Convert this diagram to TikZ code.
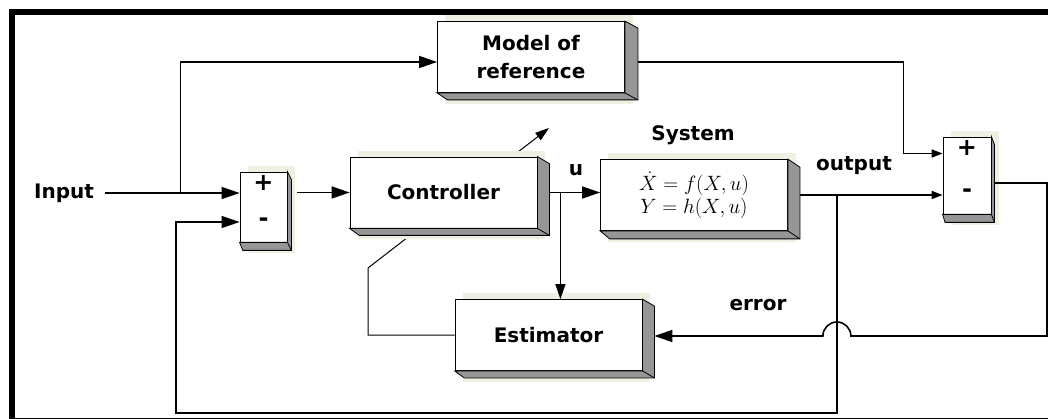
\documentclass[tikz,border=0pt]{standalone}
\usepackage{amsmath}
\usepackage{fontspec}
\usepackage{tikz}
\usetikzlibrary{arrows.meta,positioning,calc}
\newfontfamily\diagfont{DejaVu Sans}
\definecolor{sidegray}{RGB}{150,150,150}
\definecolor{halobeige}{RGB}{238,240,226}
\pgfdeclarelayer{wires}
\pgfdeclarelayer{halo}
\pgfsetlayers{wires,halo,main}

% raised look of a block: pale halo, grey right side and bottom
\newcommand{\boxfaces}[3]{%
  \begin{pgfonlayer}{halo}
    \fill[halobeige] ($(#1.north west)+(8,-6)$) rectangle ($(#1.south east)+(8,11)$);
  \end{pgfonlayer}
  \filldraw[fill=sidegray, draw=black, line width=0.8pt] (#1.north east) -- ++(#2,#3)
    -- ($(#1.south east)+(#2,#3)$) -- ($(#1.south west)+(0.8*#2,#3)$) -- (#1.south west)
    -- (#1.south east) -- cycle;
  \draw[line width=0.8pt] (#1.south east) -- ++(#2,#3);
}

\begin{document}
\begin{tikzpicture}[
    x=1pt, y=-1pt,
    every node/.style={align=center},
    block/.style={rectangle, draw=black, fill=white, line width=0.8pt, minimum width=187pt, minimum height=71pt, inner sep=0pt, font=\diagfont\bfseries\fontsize{20}{28}\selectfont},
    sumblock/.style={block, minimum width=47pt, minimum height=70pt},
    lbl/.style={inner sep=0pt, font=\diagfont\bfseries\fontsize{20}{24}\selectfont},
    signlbl/.style={inner sep=0pt, font=\diagfont\bfseries\fontsize{24}{24}\selectfont},
    wire/.style={line width=1.6pt},
    arrow/.style={wire, -{Triangle[length=18pt,width=12pt]}},
    smallarrow/.style={wire, -{Triangle[length=11pt,width=8pt]}},
    thinarrow/.style={line width=1pt, -{Triangle[length=14pt,width=9pt]}}
]
\useasboundingbox (0,0) rectangle (1048,419);

% Frame
\draw[line width=6pt] (1048,12) -- (12,12) -- (12,419);
\draw[line width=1pt] (9,418) -- (1048,418);

% Blocks
\node[block] (model) at (531,57) {Model of\\reference};
\boxfaces{model}{13}{7}
\node[sumblock] (sumA) at (263.5,207) {};
\boxfaces{sumA}{4}{8}
\node[block] (ctrl) at (443.5,192.5) {Controller};
\boxfaces{ctrl}{12}{7}
\node[block, font=\fontsize{20.74}{23}\selectfont] (sys) at (694,195) {$\dot{X} = f(X,u)$\\$Y = h(X,u)$};
\boxfaces{sys}{12}{8}
\node[sumblock, minimum width=48pt, minimum height=77pt] (sumB) at (967,175.5) {};
\boxfaces{sumB}{3}{8}
\node[block] (est) at (548.5,335) {Estimator};
\boxfaces{est}{12}{7}

% Signs and labels
\node[signlbl] (sumAplus) at (263.5,183) {+};
\node[signlbl] (sumAminus) at (263.5,222) {-};
\node[signlbl] (sumBplus) at (967,148) {+};
\node[signlbl] (sumBminus) at (967,193) {-};
\node[lbl] (inp) at (64,193) {Input};
\node[lbl] (sysName) at (693,135) {System};
\node[lbl] (uLbl) at (576,170) {u};
\node[lbl] (outLbl) at (854,166) {output};
\node[lbl] (errLbl) at (758,305) {error};

% Points on the wires
\coordinate (inBr) at (180,193);
\coordinate (modelIn) at ($(model.west)+(0,5)$);
\coordinate (modelOut) at ($(model.east)+(13,5)$);
\coordinate (uOut) at ($(ctrl.east)+(12,0)$);
\coordinate (uBr) at ($(uOut)+(11,0)$);
\coordinate (yOut) at ($(sys.east)+(12,0)$);
\coordinate (outBr) at ($(yOut)+(37,0)$);
\coordinate (fbCorner) at (176,413);
\coordinate (plusIn) at ($(sumB.west)+(0,-22)$);
\coordinate (errOut) at ($(sumB.east)+(3,7.5)$);
\coordinate (errCorner) at (1047,336);
\coordinate (errIn) at ($(est.east)+(12,1)$);
\coordinate (adjA) at (368,268);
\coordinate (adjTip) at (549,128);

% Connections
\draw[arrow] ($(inp.east)+(11,0)$) -- (sumA.west |- inp.east);
\draw[line width=1pt] (inBr) -- (inBr |- modelIn);
\draw[arrow] (inBr |- modelIn) -- (modelIn);
\draw[arrow] ($(sumA.east |- ctrl.west)+(10,0)$) -- (ctrl.west);
\draw[arrow] (uOut) -- (sys.west |- uOut);
\draw[line width=1.2pt, -{Triangle[length=15pt,width=10pt]}] (uBr) -- (uBr |- est.north);
\draw[smallarrow] (yOut) -- (sumB.west |- yOut);
\draw[smallarrow] (modelOut) -| ($(plusIn)+(-39,0)$) -- (plusIn);

% Feedback of the output
\draw[arrow] (outBr) |- (fbCorner) |- ($(sumA.west)+(0,15)$);

% Error to the estimator, hopping over the feedback
\draw[arrow] (errOut) -| (errCorner) -- ($(outBr |- errCorner)+(14,0)$)
    arc[start angle=0, end angle=180, radius=14pt] -- (errIn);

% Adaptation of the controller
\begin{pgfonlayer}{wires}
\draw[thinarrow] (est.west) -| (adjA) -- (adjTip);
\end{pgfonlayer}

\end{tikzpicture}
\end{document}
